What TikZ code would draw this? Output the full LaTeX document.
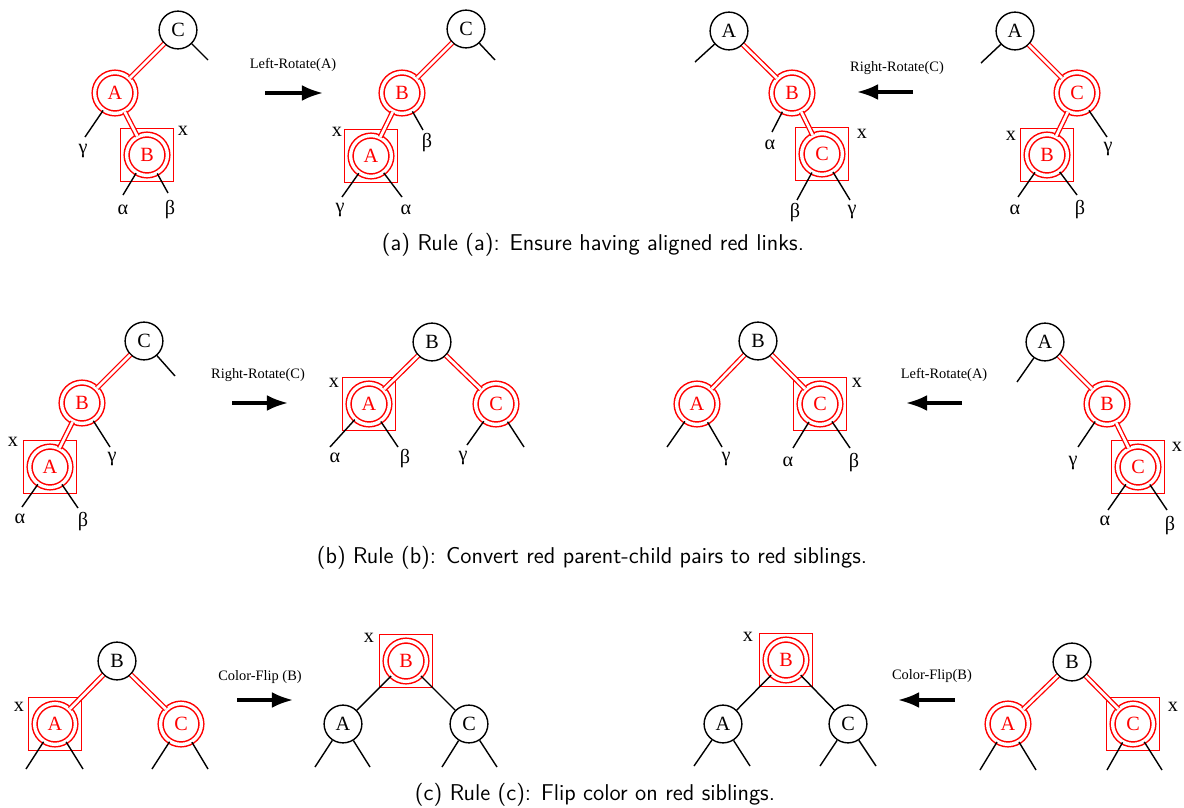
\documentclass[tikz,border=0pt]{standalone}
\usepackage{fontspec}
\newfontfamily\tnr{Liberation Serif}
\usetikzlibrary{arrows.meta,positioning}
\tikzset{
	blk/.style={circle,draw,line width=0.8pt,minimum size=21.5pt,inner sep=0pt,font=\tnr\fontsize{11.5}{13}\selectfont},
	rednode/.style={circle,draw=red,text=red,double,double distance=1.9pt,line width=0.85pt,minimum size=23.2pt,inner sep=0pt,font=\tnr\fontsize{11.5}{13}\selectfont},
	xbox/.style={draw=red,line width=0.9pt,minimum size=30pt,inner sep=0pt},
	redlink/.style={draw=red,double=white,double distance=1.5pt,line width=0.75pt},
	leaf/.style={line width=0.8pt},
	lbl/.style={inner sep=0pt,font=\tnr\fontsize{11.5}{13}\selectfont},
	rot/.style={inner sep=0pt,font=\tnr\fontsize{8.2}{10}\selectfont},
	bigarrow/.style={-{Latex[length=12pt,width=9pt]},line width=1.8pt},
	captxt/.style={inner sep=0pt,font=\sffamily\fontsize{13}{15}\selectfont}
}
\begin{document}
\begin{tikzpicture}[x=0.02cm,y=-0.02cm]
	\useasboundingbox (0,0) rectangle (1184,808);

	\node[blk] (a1C) at (178,30) {C};
	\node[rednode] (a1A) at (115,93) {A};
	\node[rednode] (a1B) at (147,155) {B};
	\node[xbox] (a1x) at (a1B) {};
	\node[lbl] (a1xl) at (183,131) {x};
	\coordinate (a1c) at (208,60);
	\coordinate (a1g) at (85,137);
	\coordinate (a1a) at (123,195);
	\coordinate (a1b) at (168,193);
	\draw[redlink] (a1C)--(a1A);
	\draw[redlink] (a1A)--(a1B);
	\draw[leaf] (a1C)--(a1c);
	\draw[leaf] (a1A)--(a1g);
	\draw[leaf] (a1B)--(a1a);
	\draw[leaf] (a1B)--(a1b);
	\node[lbl] (a1gl) at (83,151) {γ};
	\node[lbl] (a1al) at (123,210) {α};
	\node[lbl] (a1bl) at (170,210) {β};

	\coordinate (r1s) at (265,93);
	\coordinate (r1e) at (323,93);
	\draw[bigarrow] (r1s)--(r1e);
	\node[rot] (r1t) at (293,65) {Left-Rotate(A)};

	\node[blk] (a2C) at (466,29) {C};
	\node[rednode] (a2B) at (402,93) {B};
	\node[rednode] (a2A) at (371,156) {A};
	\node[xbox] (a2x) at (a2A) {};
	\node[lbl] (a2xl) at (337,132) {x};
	\coordinate (a2c) at (495,60);
	\coordinate (a2b) at (423,130);
	\coordinate (a2g) at (342,197);
	\coordinate (a2a) at (402,197);
	\draw[redlink] (a2C)--(a2B);
	\draw[redlink] (a2B)--(a2A);
	\draw[leaf] (a2C)--(a2c);
	\draw[leaf] (a2B)--(a2b);
	\draw[leaf] (a2A)--(a2g);
	\draw[leaf] (a2A)--(a2a);
	\node[lbl] (a2bl) at (427,143) {β};
	\node[lbl] (a2gl) at (340,210) {γ};
	\node[lbl] (a2al) at (406,210) {α};

	\node[blk] (a3A) at (729,31) {A};
	\node[rednode] (a3B) at (792,93) {B};
	\node[rednode] (a3C) at (822,154) {C};
	\node[xbox] (a3x) at (a3C) {};
	\node[lbl] (a3xl) at (862,134) {x};
	\coordinate (a3d) at (695,62);
	\coordinate (a3a) at (772,132);
	\coordinate (a3b) at (797,200);
	\coordinate (a3g) at (850,200);
	\draw[redlink] (a3A)--(a3B);
	\draw[redlink] (a3B)--(a3C);
	\draw[leaf] (a3A)--(a3d);
	\draw[leaf] (a3B)--(a3a);
	\draw[leaf] (a3C)--(a3b);
	\draw[leaf] (a3C)--(a3g);
	\node[lbl] (a3al) at (770,145) {α};
	\node[lbl] (a3bl) at (795,213) {β};
	\node[lbl] (a3gl) at (852,212) {γ};

	\coordinate (r2s) at (913,92);
	\coordinate (r2e) at (857,92);
	\draw[bigarrow] (r2s)--(r2e);
	\node[rot] (r2t) at (897,68) {Right-Rotate(C)};

	\node[blk] (a4A) at (1015,31) {A};
	\node[rednode] (a4C) at (1077,93) {C};
	\node[rednode] (a4B) at (1047,155) {B};
	\node[xbox] (a4x) at (a4B) {};
	\node[lbl] (a4xl) at (1011,136) {x};
	\coordinate (a4d) at (981,63);
	\coordinate (a4g) at (1107,137);
	\coordinate (a4a) at (1018,197);
	\coordinate (a4b) at (1077,195);
	\draw[redlink] (a4A)--(a4C);
	\draw[redlink] (a4C)--(a4B);
	\draw[leaf] (a4A)--(a4d);
	\draw[leaf] (a4C)--(a4g);
	\draw[leaf] (a4B)--(a4a);
	\draw[leaf] (a4B)--(a4b);
	\node[lbl] (a4gl) at (1108,149) {γ};
	\node[lbl] (a4al) at (1015,210) {α};
	\node[lbl] (a4bl) at (1080,210) {β};

	\node[captxt] (capa) at (593,245) {(a) Rule (a): Ensure having aligned red links.};

	\node[blk] (b1C) at (144,341) {C};
	\node[rednode] (b1B) at (82,403) {B};
	\node[rednode] (b1A) at (50,467) {A};
	\node[xbox] (b1x) at (b1A) {};
	\node[lbl] (b1xl) at (13,442) {x};
	\coordinate (b1d) at (175,376);
	\coordinate (b1g) at (110,447);
	\coordinate (b1a) at (22,507);
	\coordinate (b1b) at (78,508);
	\draw[redlink] (b1C)--(b1B);
	\draw[redlink] (b1B)--(b1A);
	\draw[leaf] (b1C)--(b1d);
	\draw[leaf] (b1B)--(b1g);
	\draw[leaf] (b1A)--(b1a);
	\draw[leaf] (b1A)--(b1b);
	\node[lbl] (b1gl) at (112,459) {γ};
	\node[lbl] (b1al) at (20,519) {α};
	\node[lbl] (b1bl) at (83,522) {β};

	\coordinate (r3s) at (232,403);
	\coordinate (r3e) at (288,403);
	\draw[bigarrow] (r3s)--(r3e);
	\node[rot] (r3t) at (258,375) {Right-Rotate(C)};

	\node[blk] (b2B) at (432,342) {B};
	\node[rednode] (b2A) at (369,404) {A};
	\node[rednode] (b2C) at (496,404) {C};
	\node[xbox] (b2x) at (b2A) {};
	\node[lbl] (b2xl) at (334,383) {x};
	\coordinate (b2a) at (330,447);
	\coordinate (b2b) at (398,447);
	\coordinate (b2g) at (467,445);
	\coordinate (b2d) at (524,447);
	\draw[redlink] (b2B)--(b2A);
	\draw[redlink] (b2B)--(b2C);
	\draw[leaf] (b2A)--(b2a);
	\draw[leaf] (b2A)--(b2b);
	\draw[leaf] (b2C)--(b2g);
	\draw[leaf] (b2C)--(b2d);
	\node[lbl] (b2al) at (335,458) {α};
	\node[lbl] (b2bl) at (405,459) {β};
	\node[lbl] (b2gl) at (463,458) {γ};

	\node[blk] (b3B) at (758,341) {B};
	\node[rednode] (b3A) at (697,404) {A};
	\node[rednode] (b3C) at (820,404) {C};
	\node[xbox] (b3x) at (b3C) {};
	\node[lbl] (b3xl) at (857,383) {x};
	\coordinate (b3d) at (667,447);
	\coordinate (b3g) at (722,447);
	\coordinate (b3a) at (793,448);
	\coordinate (b3b) at (850,448);
	\draw[redlink] (b3B)--(b3A);
	\draw[redlink] (b3B)--(b3C);
	\draw[leaf] (b3A)--(b3d);
	\draw[leaf] (b3A)--(b3g);
	\draw[leaf] (b3C)--(b3a);
	\draw[leaf] (b3C)--(b3b);
	\node[lbl] (b3gl) at (726,459) {γ};
	\node[lbl] (b3al) at (788,462) {α};
	\node[lbl] (b3bl) at (854,463) {β};

	\coordinate (r4s) at (962,403);
	\coordinate (r4e) at (906,403);
	\draw[bigarrow] (r4s)--(r4e);
	\node[rot] (r4t) at (944,375) {Left-Rotate(A)};

	\node[blk] (b4A) at (1045,342) {A};
	\node[rednode] (b4B) at (1107,404) {B};
	\node[rednode] (b4C) at (1138,467) {C};
	\node[xbox] (b4x) at (b4C) {};
	\node[lbl] (b4xl) at (1177,447) {x};
	\coordinate (b4d) at (1017,382);
	\coordinate (b4g) at (1078,447);
	\coordinate (b4a) at (1108,510);
	\coordinate (b4b) at (1167,510);
	\draw[redlink] (b4A)--(b4B);
	\draw[redlink] (b4B)--(b4C);
	\draw[leaf] (b4A)--(b4d);
	\draw[leaf] (b4B)--(b4g);
	\draw[leaf] (b4C)--(b4a);
	\draw[leaf] (b4C)--(b4b);
	\node[lbl] (b4gl) at (1073,463) {γ};
	\node[lbl] (b4al) at (1105,521) {α};
	\node[lbl] (b4bl) at (1170,526) {β};

	\node[captxt] (capb) at (592,558) {(b) Rule (b): Convert red parent-child pairs to red siblings.};

	\node[blk] (c1B) at (117,661) {B};
	\node[rednode] (c1A) at (55,724) {A};
	\node[rednode] (c1C) at (181,724) {C};
	\node[xbox] (c1x) at (c1A) {};
	\node[lbl] (c1xl) at (19,707) {x};
	\coordinate (c1a1) at (26,769);
	\coordinate (c1a2) at (83,769);
	\coordinate (c1c1) at (152,769);
	\coordinate (c1c2) at (208,769);
	\draw[redlink] (c1B)--(c1A);
	\draw[redlink] (c1B)--(c1C);
	\draw[leaf] (c1A)--(c1a1);
	\draw[leaf] (c1A)--(c1a2);
	\draw[leaf] (c1C)--(c1c1);
	\draw[leaf] (c1C)--(c1c2);

	\coordinate (r5s) at (237,700);
	\coordinate (r5e) at (293,700);
	\draw[bigarrow] (r5s)--(r5e);
	\node[rot] (r5t) at (260,677) {Color-Flip (B)};

	\node[rednode] (c2B) at (406,661) {B};
	\node[blk] (c2A) at (343,724) {A};
	\node[blk] (c2C) at (469,724) {C};
	\node[xbox] (c2x) at (c2B) {};
	\node[lbl] (c2xl) at (369,638) {x};
	\coordinate (c2a1) at (315,767);
	\coordinate (c2a2) at (370,767);
	\coordinate (c2c1) at (442,767);
	\coordinate (c2c2) at (497,767);
	\draw[leaf] (c2B)--(c2A);
	\draw[leaf] (c2B)--(c2C);
	\draw[leaf] (c2A)--(c2a1);
	\draw[leaf] (c2A)--(c2a2);
	\draw[leaf] (c2C)--(c2c1);
	\draw[leaf] (c2C)--(c2c2);

	\node[rednode] (c3B) at (786,660) {B};
	\node[blk] (c3A) at (723,724) {A};
	\node[blk] (c3C) at (848,724) {C};
	\node[xbox] (c3x) at (c3B) {};
	\node[lbl] (c3xl) at (748,637) {x};
	\coordinate (c3a1) at (694,766);
	\coordinate (c3a2) at (750,766);
	\coordinate (c3c1) at (820,766);
	\coordinate (c3c2) at (876,766);
	\draw[leaf] (c3B)--(c3A);
	\draw[leaf] (c3B)--(c3C);
	\draw[leaf] (c3A)--(c3a1);
	\draw[leaf] (c3A)--(c3a2);
	\draw[leaf] (c3C)--(c3c1);
	\draw[leaf] (c3C)--(c3c2);

	\coordinate (r6s) at (955,700);
	\coordinate (r6e) at (898,700);
	\draw[bigarrow] (r6s)--(r6e);
	\node[rot] (r6t) at (932,676) {Color-Flip(B)};

	\node[blk] (c4B) at (1072,662) {B};
	\node[rednode] (c4A) at (1008,724) {A};
	\node[rednode] (c4C) at (1133,724) {C};
	\node[xbox] (c4x) at (c4C) {};
	\node[lbl] (c4xl) at (1173,707) {x};
	\coordinate (c4a1) at (980,770);
	\coordinate (c4a2) at (1036,770);
	\coordinate (c4c1) at (1107,770);
	\coordinate (c4c2) at (1162,770);
	\draw[redlink] (c4B)--(c4A);
	\draw[redlink] (c4B)--(c4C);
	\draw[leaf] (c4A)--(c4a1);
	\draw[leaf] (c4A)--(c4a2);
	\draw[leaf] (c4C)--(c4c1);
	\draw[leaf] (c4C)--(c4c2);

	\node[captxt] (capc) at (595,795) {(c) Rule (c): Flip color on red siblings.};
\end{tikzpicture}
\end{document}
